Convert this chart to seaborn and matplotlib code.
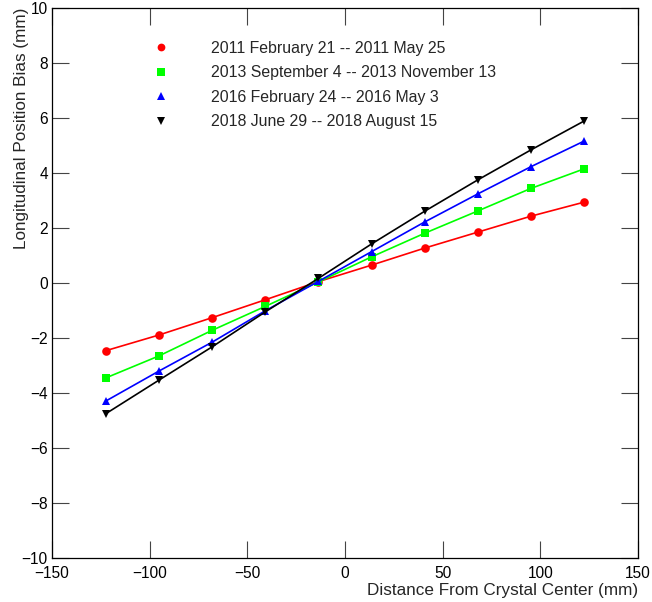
import numpy as np
import pandas as pd
import matplotlib
matplotlib.use("Agg")
import matplotlib.pyplot as plt
import seaborn as sns

positions = [-122.4, -95.2, -68.0, -40.8, -13.6, 13.6, 40.8, 68.0, 95.2, 122.4]
series_labels = [
    "2011 February 21 -- 2011 May 25",
    "2013 September 4 -- 2013 November 13",
    "2016 February 24 -- 2016 May 3",
    "2018 June 29 -- 2018 August 15",
]
bias_2011 = [-2.46, -1.89, -1.26, -0.61, 0.05, 0.65, 1.27, 1.85, 2.43, 2.94]
bias_2013 = [-3.45, -2.65, -1.72, -0.85, 0.04, 0.95, 1.81, 2.62, 3.44, 4.15]
bias_2016 = [-4.29, -3.20, -2.15, -1.01, 0.06, 1.14, 2.22, 3.24, 4.23, 5.16]
bias_2018 = [-4.75, -3.53, -2.32, -1.05, 0.17, 1.42, 2.61, 3.75, 4.84, 5.89]

colors = ["#ff0000", "#00ff00", "#0000ff", "#000000"]
markers = ["o", "s", "^", "v"]

frames = []
for lab, vals in zip(series_labels, [bias_2011, bias_2013, bias_2016, bias_2018]):
    frames.append(pd.DataFrame({"x": positions, "y": vals, "period": lab}))
df = pd.concat(frames, ignore_index=True)

sns.set_style("ticks")
plt.rcParams["font.family"] = ["Liberation Sans", "DejaVu Sans"]

fig = plt.figure(figsize=(6.52, 6.02), dpi=100)
ax = fig.add_axes([52/652, 44/602, 586/652, 550/602])

sns.lineplot(data=df, x="x", y="y", hue="period", style="period",
             palette=dict(zip(series_labels, colors)),
             markers=dict(zip(series_labels, markers)),
             dashes=False, markersize=6.2, linewidth=1.2,
             markeredgewidth=0, ax=ax)

ax.set_xlim(-150, 150)
ax.set_ylim(-10, 10)
ax.set_xticks(np.arange(-150, 151, 50))
ax.set_yticks(np.arange(-10, 11, 2))
ax.tick_params(direction="in", top=True, right=True, length=12, width=0.8,
               labelsize=11.2, colors="#444444", labelcolor="black")
ax.tick_params(axis="x", pad=6)
ax.tick_params(axis="y", pad=3)
for s in ax.spines.values():
    s.set_linewidth(0.9)
    s.set_color("black")

ax.set_xlabel("Distance From Crystal Center (mm)", fontsize=12.3, loc="right", labelpad=1.5)
ax.set_ylabel("Longitudinal Position Bias (mm)", fontsize=12.3, loc="top", labelpad=-5)

leg = ax.legend(loc="upper left", bbox_to_anchor=(0.161, 0.952), frameon=False,
                fontsize=11.4, handlelength=1.0, handletextpad=2.66,
                labelspacing=0.6, borderaxespad=0, markerscale=0.9)
for h in leg.legend_handles:
    h.set_linestyle("none")

fig.savefig("out.png", dpi=100)
